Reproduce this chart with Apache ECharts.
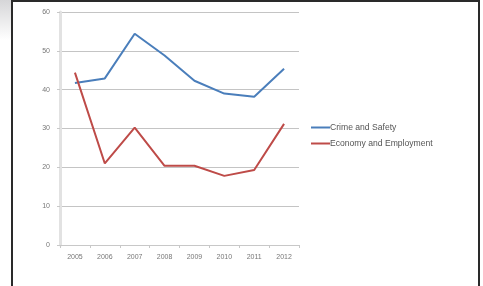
<!DOCTYPE html>
<html>
<head>
<meta charset="utf-8">
<script src="https://cdn.jsdelivr.net/npm/echarts@6/dist/echarts.min.js"></script>
<style>
    html, body { margin: 0; padding: 0; background: #fff; }
    #shade { position: absolute; left: 0; top: 0; width: 12px; height: 40px;
        background: linear-gradient(to bottom, #d6d6d8, #ffffff); }
    #frame { position: absolute; left: 11px; top: 0; width: 469px; height: 300px;
        border: 2px solid #2a2a2a; border-bottom: none; box-sizing: border-box; }
    #chart { position: absolute; left: 0; top: 0; width: 483px; height: 286px; }
</style>
</head>
<body>
<div id="shade"></div>
<div id="frame"></div>
<div id="chart"></div>
<script>
var years = ['2005', '2006', '2007', '2008', '2009', '2010', '2011', '2012'];
var crimeSafety = [41.7, 42.9, 54.4, 48.8, 42.3, 39.0, 38.2, 45.4];
var economyEmployment = [44.4, 21.0, 30.2, 20.4, 20.4, 17.8, 19.3, 31.2];
var seriesNames = ['Crime and Safety', 'Economy and Employment'];

(function () {
    var chart = echarts.init(document.getElementById('chart'));
    var labelStyle = {
        color: '#777',
        fontSize: 7,
        fontFamily: 'Liberation Sans'
    };
    var option = {
        animation: false,
        grid: {
            left: 60,
            top: 12,
            width: 239,
            height: 233
        },
        legend: {
            orient: 'vertical',
            left: 311,
            top: 123,
            padding: 0,
            itemGap: 7,
            itemWidth: 19,
            itemHeight: 2,
            icon: 'rect',
            textStyle: {
                color: '#555',
                fontSize: 8.6,
                fontFamily: 'Liberation Sans',
                padding: [0, 0, 0, -5]
            },
            data: seriesNames
        },
        xAxis: {
            type: 'category',
            data: years,
            boundaryGap: true,
            axisLine: { lineStyle: { color: '#c8c8c8', width: 1 } },
            axisTick: { show: true, length: 3, lineStyle: { color: '#c8c8c8' } },
            axisLabel: Object.assign({ margin: 9 }, labelStyle),
            splitLine: { show: false }
        },
        yAxis: {
            type: 'value',
            min: 0,
            max: 60,
            interval: 10,
            axisLine: { show: true, lineStyle: { color: '#e2e2e2', width: 3 } },
            axisTick: { show: true, length: 3, lineStyle: { color: '#c8c8c8' } },
            axisLabel: Object.assign({ margin: 10 }, labelStyle),
            splitLine: { lineStyle: { color: '#c4c4c4', width: 1 } }
        },
        series: [
            {
                name: seriesNames[0],
                type: 'line',
                data: crimeSafety,
                symbol: 'none',
                lineStyle: { color: '#4a7ebb', width: 2 },
                itemStyle: { color: '#4a7ebb' }
            },
            {
                name: seriesNames[1],
                type: 'line',
                data: economyEmployment,
                symbol: 'none',
                lineStyle: { color: '#be4b48', width: 2 },
                itemStyle: { color: '#be4b48' }
            }
        ]
    };
    chart.setOption(option);
})();
</script>
</body>
</html>
